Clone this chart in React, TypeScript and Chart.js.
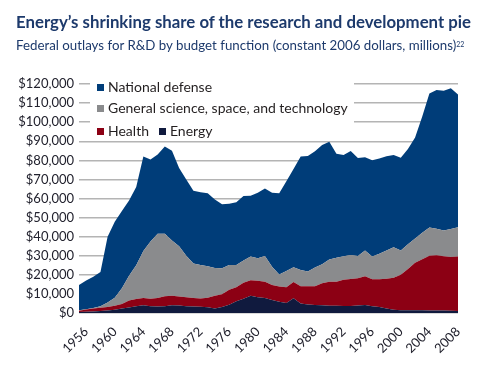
import React, { useEffect, useRef } from "react";
import { Chart, registerables } from "chart.js";

Chart.register(...registerables);

const years = [
  "1955", "1956", "1957", "1958", "1959", "1960", "1961", "1962", "1963", "1964",
  "1965", "1966", "1967", "1968", "1969", "1970", "1971", "1972", "1973", "1974",
  "1975", "1976", "1977", "1978", "1979", "1980", "1981", "1982", "1983", "1984",
  "1985", "1986", "1987", "1988", "1989", "1990", "1991", "1992", "1993", "1994",
  "1995", "1996", "1997", "1998", "1999", "2000", "2001", "2002", "2003", "2004",
  "2005", "2006", "2007", "2008",
];

// Federal R&D outlays, constant 2006 dollars, millions
const energy = [
  500, 600, 800, 1000, 1300, 1700, 2300, 2900, 3500, 4000,
  3600, 3400, 3600, 4000, 3900, 3600, 3400, 3300, 3000, 2300,
  3200, 4300, 6200, 7500, 9000, 8300, 7900, 6800, 5900, 5200,
  7700, 5000, 4400, 4200, 4000, 3800, 3800, 3700, 3700, 3900,
  4200, 3600, 3100, 2300, 1700, 1500, 1400, 1400, 1400, 1300,
  1300, 1300, 1200, 1000,
];

const health = [
  700, 1200, 1600, 1800, 1900, 2100, 2400, 3600, 3900, 3800,
  3900, 4400, 5200, 5000, 4700, 4700, 4400, 4300, 5000, 6800,
  6600, 7900, 7300, 8300, 8200, 8600, 8500, 7900, 8000, 8300,
  8500, 9000, 9600, 9800, 11600, 12600, 12600, 13700, 14100, 14300,
  15000, 14100, 14600, 15600, 16800, 18500, 21600, 24900, 26800, 28700,
  28900, 28500, 28100, 28600,
];

const generalScience = [
  300, 200, 200, 700, 2300, 4200, 8300, 13000, 17600, 24700,
  30000, 33700, 32700, 29000, 26400, 21700, 18200, 17600, 16500, 14500,
  13700, 13000, 11700, 11700, 12400, 11800, 13500, 9600, 6300, 8500,
  7800, 8500, 7800, 9800, 9900, 11600, 12600, 12400, 12600, 11700,
  13500, 11900, 13300, 14900, 15900, 12800, 13000, 12700, 13800, 14800,
  14000, 13400, 14700, 15300,
];

const nationalDefense = [
  13200, 15000, 16400, 18000, 34500, 39800, 40500, 39500, 41000, 49500,
  43000, 41500, 45800, 47000, 41000, 40000, 38000, 38100, 38300, 35900,
  33500, 32000, 32800, 33800, 31900, 34300, 35400, 38700, 42500, 47000,
  51500, 59500, 60500, 61000, 62500, 61800, 54500, 53000, 54500, 51300,
  48900, 50400, 50000, 49400, 48400, 48600, 50000, 53000, 61000, 70200,
  72600, 73300, 73800, 69600,
];

const seriesNames = ["Energy", "Health", "General science, space, and technology", "National defense"];
const seriesColors = ["#101a3e", "#8c0014", "#8a8b8d", "#003d79"];

const TEXT_FONT = "Lato, 'Open Sans', sans-serif";

export default function App() {
  const canvasRef = useRef<HTMLCanvasElement>(null);

  useEffect(() => {
    const ctx = canvasRef.current;
    if (!ctx) return;
    const seriesData = [energy, health, generalScience, nationalDefense];
    const chart = new Chart(ctx, {
      type: "line",
      data: {
        labels: years,
        datasets: seriesData.map((d, i) => ({
          label: seriesNames[i],
          data: d,
          backgroundColor: seriesColors[i],
          borderColor: seriesColors[i],
          borderWidth: 0,
          pointRadius: 0,
          tension: 0,
          fill: i === 0 ? "origin" : "-1",
        })),
      },
      options: {
        responsive: false,
        animation: false,
        layout: { padding: { top: 84, right: 42, left: 0, bottom: 0 } },
        plugins: {
          legend: { display: false },
          tooltip: { enabled: false },
          title: { display: false },
        },
        scales: {
          x: {
            grid: { display: false },
            border: { display: false },
            ticks: {
              autoSkip: false,
              minRotation: 45,
              maxRotation: 45,
              padding: 3,
              color: "#22222e",
              font: { family: TEXT_FONT, size: 13 },
              callback: (_v: any, i: number) =>
                Number(years[i]) % 4 === 0 ? years[i] : null,
            },
            afterFit: (s: any) => {
              s.height = 52;
            },
          },
          y: {
            stacked: true,
            min: 0,
            max: 120000,
            ticks: {
              stepSize: 10000,
              padding: 5,
              color: "#22222e",
              font: { family: TEXT_FONT, size: 13 },
              callback: (v: any) => "$" + Number(v).toLocaleString("en-US"),
            },
            grid: { color: "#b4b4b4", lineWidth: 1.5, drawTicks: false },
            border: { display: false },
            afterFit: (s: any) => {
              s.width = 79;
            },
          },
        },
      },
    });
    return () => chart.destroy();
  }, []);

  const navy = "#1d3a6c";
  const legendRow = (top: number, items: { color: string; label: string }[]) => (
    <div
      style={{
        position: "absolute",
        left: 97,
        top,
        display: "flex",
        alignItems: "center",
        fontFamily: TEXT_FONT,
        fontSize: 14,
        lineHeight: "16px",
        color: "#231f20",
        whiteSpace: "nowrap",
      }}
    >
      {items.map((it, k) => (
        <span key={k} style={{ display: "inline-flex", alignItems: "center", marginRight: 10 }}>
          <span
            style={{
              display: "inline-block",
              width: 7,
              height: 7,
              background: it.color,
              marginRight: 4,
            }}
          />
          {it.label}
        </span>
      ))}
    </div>
  );

  return (
    <div style={{ position: "fixed", left: 0, top: 0, width: 500, height: 365, background: "#fff", overflow: "hidden" }}>
      <canvas ref={canvasRef} width={500} height={365} style={{ position: "absolute", left: 0, top: 0 }} />
      <div
        style={{
          position: "absolute",
          left: 16,
          top: 12,
          fontFamily: TEXT_FONT,
          fontWeight: 700,
          fontSize: 16.8,
          lineHeight: "20px",
          color: navy,
          whiteSpace: "nowrap",
        }}
      >
        Energy’s shrinking share of the research and development pie
      </div>
      <div
        style={{
          position: "absolute",
          left: 16,
          top: 37,
          fontFamily: TEXT_FONT,
          fontSize: 13.3,
          lineHeight: "16px",
          color: navy,
          whiteSpace: "nowrap",
        }}
      >
        Federal outlays for R&amp;D by budget function (constant 2006 dollars, millions)
        <sup style={{ fontSize: 7, verticalAlign: "top", position: "relative", top: -1 }}>22</sup>
      </div>
      <div style={{ position: "absolute", left: 90, top: 75, width: 264, height: 64, background: "#fff" }} />
      {legendRow(79, [{ color: seriesColors[3], label: seriesNames[3] }])}
      {legendRow(100, [{ color: seriesColors[2], label: seriesNames[2] }])}
      {legendRow(123, [
        { color: seriesColors[1], label: seriesNames[1] },
        { color: seriesColors[0], label: seriesNames[0] },
      ])}
    </div>
  );
}
